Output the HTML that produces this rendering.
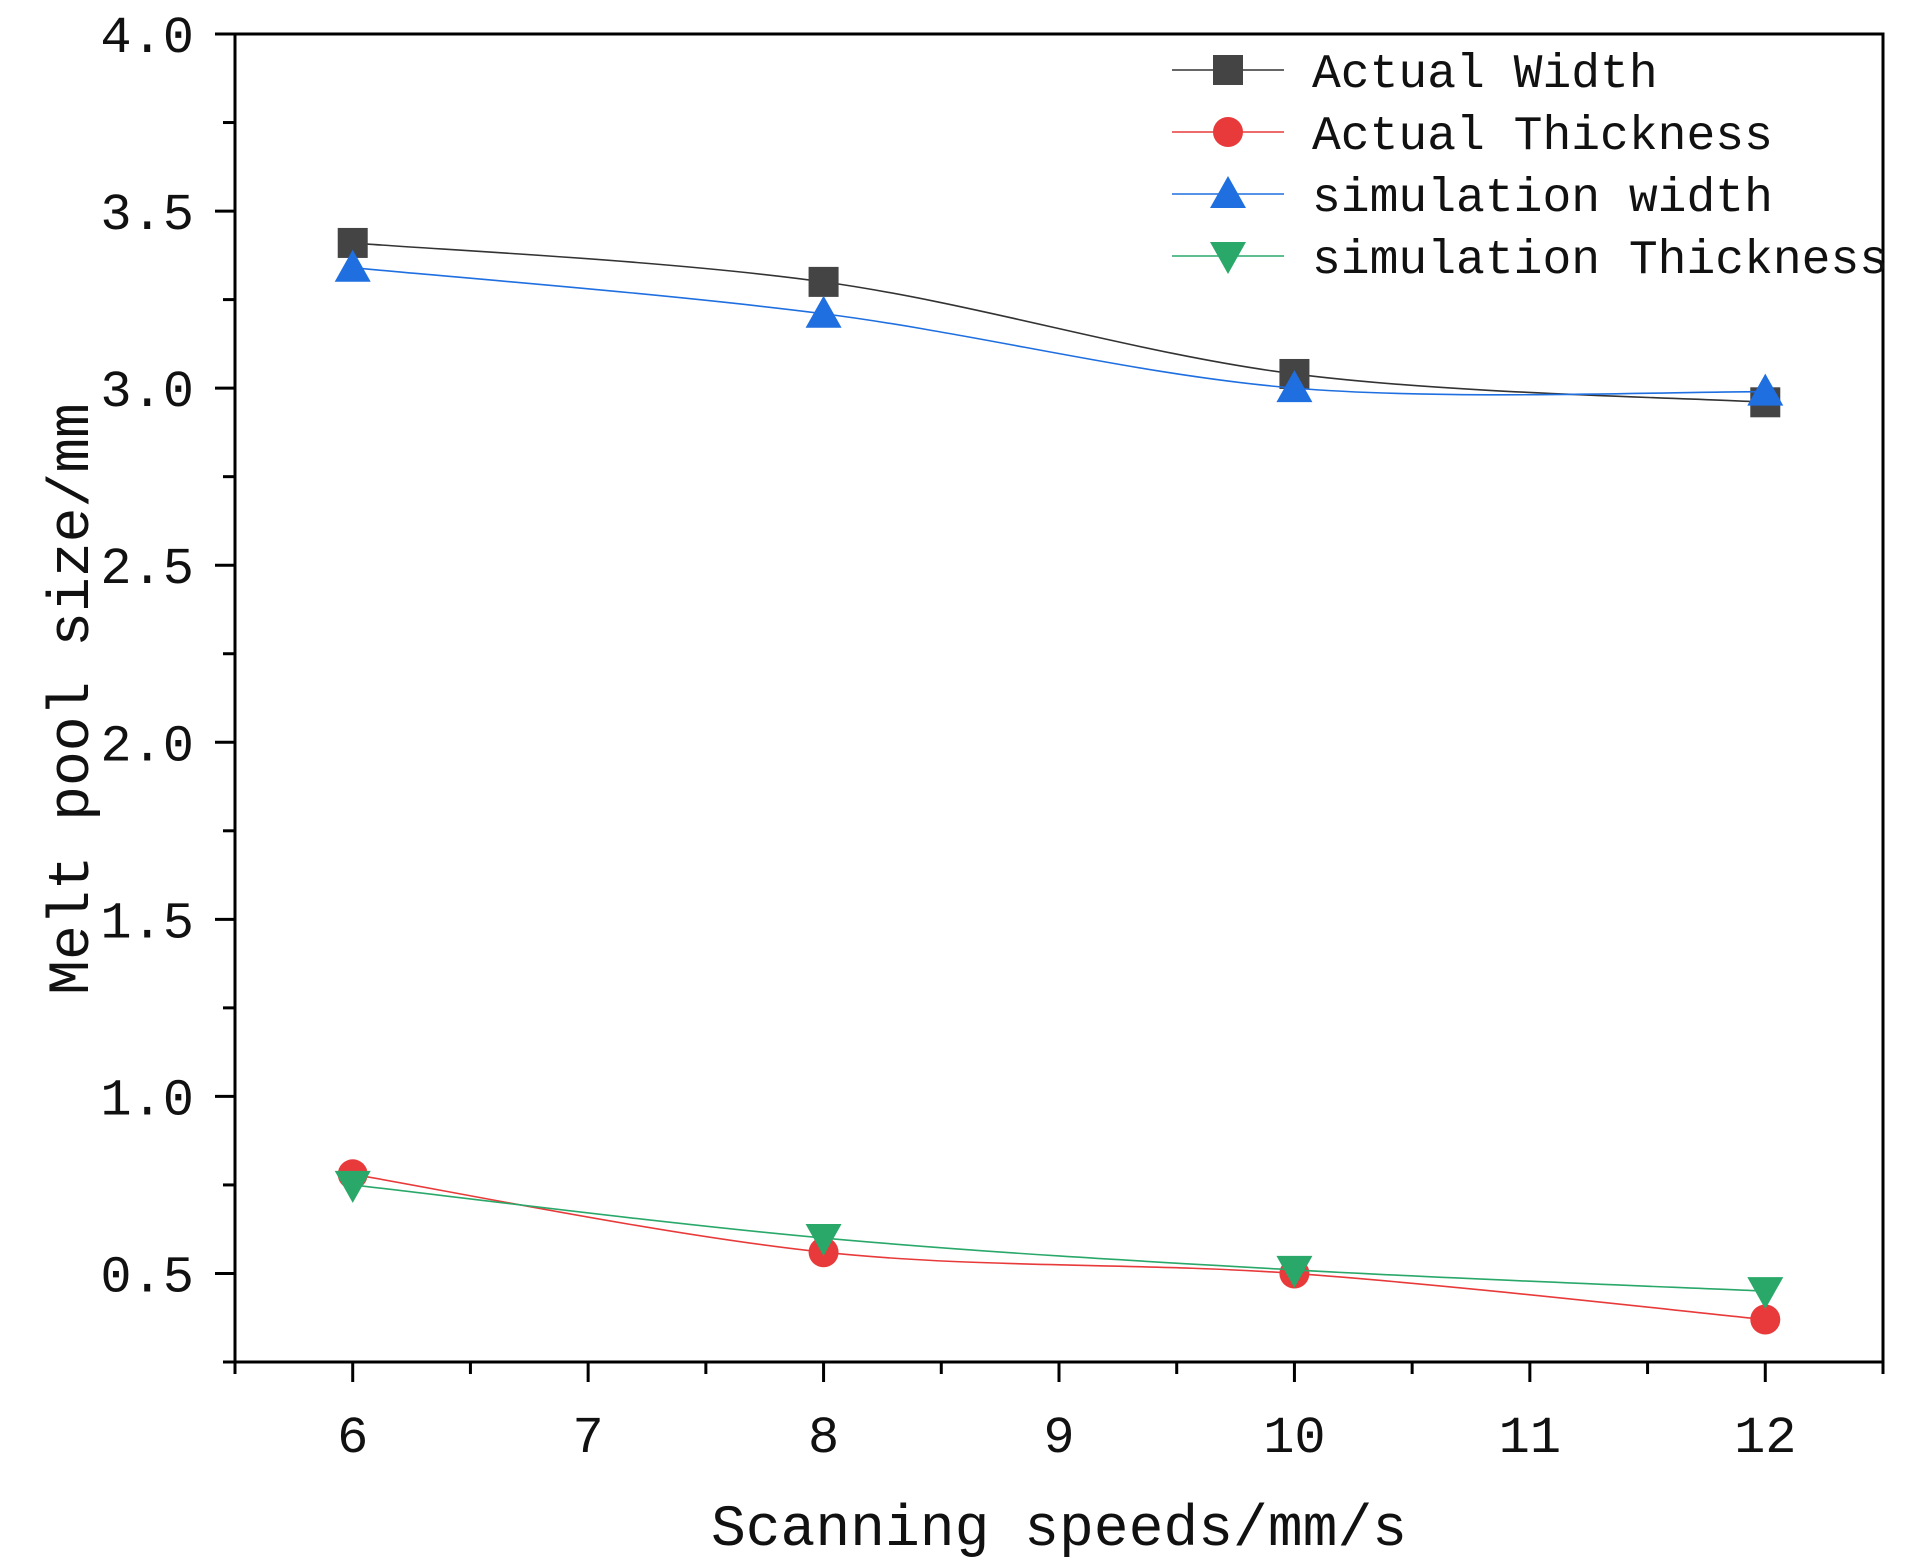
<!DOCTYPE html>
<html><head><meta charset="utf-8"><style>
html,body{margin:0;padding:0;background:#fff}
svg{display:block}
text{font-family:"Liberation Mono","Noto Sans CJK SC",monospace;fill:#111}
</style></head><body>
<svg id="chart" width="1913" height="1567" viewBox="0 0 1913 1567" xmlns="http://www.w3.org/2000/svg">
<g id="axes"></g>
<g id="series"></g>
<g id="legend"></g>
</svg>
<script>
const categories=[6,8,10,12];
const actualWidth=[3.41,3.30,3.04,2.96];
const actualThickness=[0.78,0.56,0.50,0.37];
const simWidth=[3.34,3.21,3.00,2.99];
const simThickness=[0.75,0.60,0.51,0.45];
const xTicks=[6,7,8,9,10,11,12];
const yTicks=[0.5,1.0,1.5,2.0,2.5,3.0,3.5,4.0];
const seriesNames=["Actual Width","Actual Thickness","simulation width","simulation Thickness"];

const L=235,R=1883,T=34,B=1362;
const xMin=5.5,xMax=12.5,yMin=0.25,yMax=4.0;
const X=v=>L+(v-xMin)/(xMax-xMin)*(R-L);
const Y=v=>B-(v-yMin)/(yMax-yMin)*(B-T);
const NS="http://www.w3.org/2000/svg";
function mk(tag,attrs,parent){const e=document.createElementNS(NS,tag);for(const k in attrs)e.setAttribute(k,attrs[k]);parent.appendChild(e);return e;}
const axes=document.getElementById('axes');
let frame=mk('rect',{x:L,y:T,width:R-L,height:B-T,fill:'none',stroke:'#000','stroke-width':3},axes);


for(let v=xMin;v<=xMax+1e-9;v+=0.5){
  const major=Math.abs(v-Math.round(v))<1e-9;
  const t=mk('line',{x1:X(v),x2:X(v),y1:B,y2:B+(major?20:12),stroke:'#000','stroke-width':3},axes);
  
  
}
xTicks.forEach(v=>{
  const t=mk('text',{x:X(v),y:1452,'text-anchor':'middle','font-size':52},axes);
  t.textContent=v;
  
  
});
for(let v=yMin;v<=yMax+1e-9;v+=0.25){
  const major=Math.abs(v*2-Math.round(v*2))<1e-9;
  const t=mk('line',{x1:L,x2:L-(major?20:12),y1:Y(v),y2:Y(v),stroke:'#000','stroke-width':3},axes);
  
  
}
yTicks.forEach(v=>{
  const t=mk('text',{x:194,y:Y(v)+18,'text-anchor':'end','font-size':52},axes);
  t.textContent=v.toFixed(1);
  
  
});
let xt=mk('text',{x:(L+R)/2,y:1545,'text-anchor':'middle','font-size':58},axes);
xt.textContent='Scanning speeds/mm/s';


let yt=mk('text',{x:0,y:0,'text-anchor':'middle','font-size':58,transform:'translate(88,699) rotate(-90)'},axes);
yt.textContent='Melt pool size/mm';



const colors=['#444','#e83a3a','#1f6fe0','#2aa86a'];
const lineColors=['#333','#e83a3a','#1f6fe0','#2aa86a'];
const data=[actualWidth,actualThickness,simWidth,simThickness];
const shapes=['square','circle','up','down'];
function marker(shape,x,y,c,g){
  const s=15;
  if(shape==='square')return mk('rect',{x:x-s,y:y-s,width:2*s,height:2*s,fill:c},g);
  if(shape==='circle')return mk('circle',{cx:x,cy:y,r:s,fill:c},g);
  if(shape==='up')return mk('polygon',{points:`${x},${y-s-3} ${x-s-3},${y+s-1} ${x+s+3},${y+s-1}`,fill:c},g);
  return mk('polygon',{points:`${x},${y+s+3} ${x-s-3},${y-s+1} ${x+s+3},${y-s+1}`,fill:c},g);
}
function spline(pts){
  let d=`M${pts[0][0]},${pts[0][1]}`;
  for(let i=0;i<pts.length-1;i++){
    const p0=pts[Math.max(i-1,0)],p1=pts[i],p2=pts[i+1],p3=pts[Math.min(i+2,pts.length-1)];
    const c1=[p1[0]+(p2[0]-p0[0])/6,p1[1]+(p2[1]-p0[1])/6];
    const c2=[p2[0]-(p3[0]-p1[0])/6,p2[1]-(p3[1]-p1[1])/6];
    d+=` C${c1[0]},${c1[1]} ${c2[0]},${c2[1]} ${p2[0]},${p2[1]}`;
  }
  return d;
}
const sg=document.getElementById('series');
data.forEach((arr,si)=>{
  const g=mk('g',{},sg);
  
  
  const pts=arr.map((v,i)=>[X(categories[i]),Y(v)]);
  const p=mk('path',{d:spline(pts),fill:'none',stroke:lineColors[si],'stroke-width':1.6},g);
  
  
  pts.forEach(pt=>{
    const m=marker(shapes[si],pt[0],pt[1],colors[si],g);
    
    
  });
});
const lg=document.getElementById('legend');
seriesNames.forEach((n,i)=>{
  const y=70+i*62;
  const g=mk('g',{},lg);
  
  
  mk('line',{x1:1172,x2:1284,y1:y,y2:y,stroke:lineColors[i],'stroke-width':1.6},g);
  marker(shapes[i],1228,y,colors[i],g);
  const t=mk('text',{x:1312,y:y+17,'font-size':48},g);
  t.textContent=n;
});
</script>
</body></html>
